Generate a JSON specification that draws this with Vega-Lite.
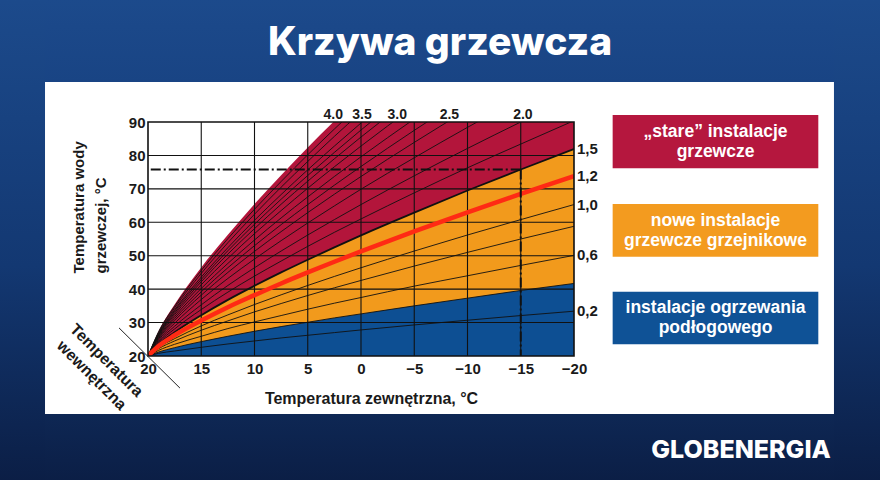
{
  "$schema": "https://vega.github.io/schema/vega-lite/v6.json",
  "width": 426,
  "height": 234,
  "autosize": {"type": "none"},
  "padding": {"left": 148, "top": 122, "right": 306, "bottom": 124},
  "background": "#ffffff",
  "config": {
    "view": {"stroke": null},
    "font": "Liberation Sans",
    "axis": {"grid": false, "ticks": false, "domain": false, "labelFont": "Liberation Sans Narrow, Arial Narrow, Liberation Sans, sans-serif", "labelFontSize": 15, "labelFontWeight": "bold", "labelColor": "#1a1a1a", "labelOverlap": false, "labelFlush": false, "labelBound": false, "titleFont": "Liberation Sans Narrow, Arial Narrow, Liberation Sans, sans-serif", "titleFontSize": 16, "titleFontWeight": "bold", "titleColor": "#1a1a1a"},
    "axisX": {"labelPadding": 5, "titleX": 223, "titleY": 42, "titleBaseline": "middle", "titleAlign": "center"},
    "axisY": {"tickCount": 8, "labelPadding": 3, "titleAngle": 270, "titleAlign": "left", "titleBaseline": "middle", "titleX": -70, "titleY": 151, "titleLineHeight": 22, "titleFontSize": 15}
  },
  "datasets": {
    "curves": [
      {"k":"4.0","t":20,"v":20},{"k":"4.0","t":19,"v":27.5},{"k":"4.0","t":17.5,"v":35.4},{"k":"4.0","t":15,"v":46.5},{"k":"4.0","t":12.5,"v":56.3},{"k":"4.0","t":10,"v":65.5},{"k":"4.0","t":7.5,"v":74.1},{"k":"4.0","t":5,"v":82.4},{"k":"4.0","t":2.5,"v":90.3},{"k":"4.0","t":0,"v":98.0},{"k":"4.0","t":-5,"v":112.9},{"k":"4.0","t":-10,"v":127.1},{"k":"4.0","t":-15,"v":140.7},{"k":"4.0","t":-20,"v":154.0},
      {"k":"3.8","t":20,"v":20},{"k":"3.8","t":19,"v":27.3},{"k":"3.8","t":17.5,"v":34.9},{"k":"3.8","t":15,"v":45.6},{"k":"3.8","t":12.5,"v":55.1},{"k":"3.8","t":10,"v":63.9},{"k":"3.8","t":7.5,"v":72.2},{"k":"3.8","t":5,"v":80.2},{"k":"3.8","t":2.5,"v":87.9},{"k":"3.8","t":0,"v":95.4},
      {"k":"3.7","t":20,"v":20},{"k":"3.7","t":19,"v":27.0},{"k":"3.7","t":17.5,"v":34.4},{"k":"3.7","t":15,"v":44.7},{"k":"3.7","t":12.5,"v":53.9},{"k":"3.7","t":10,"v":62.4},{"k":"3.7","t":7.5,"v":70.5},{"k":"3.7","t":5,"v":78.2},{"k":"3.7","t":2.5,"v":85.7},{"k":"3.7","t":0,"v":92.9},
      {"k":"3.5","t":20,"v":20},{"k":"3.5","t":19,"v":26.7},{"k":"3.5","t":17.5,"v":33.8},{"k":"3.5","t":15,"v":43.6},{"k":"3.5","t":12.5,"v":52.4},{"k":"3.5","t":10,"v":60.6},{"k":"3.5","t":7.5,"v":68.3},{"k":"3.5","t":5,"v":75.7},{"k":"3.5","t":2.5,"v":82.8},{"k":"3.5","t":0,"v":89.7},{"k":"3.5","t":-5,"v":103.0},
      {"k":"3.3","t":20,"v":20},{"k":"3.3","t":19,"v":26.5},{"k":"3.3","t":17.5,"v":33.4},{"k":"3.3","t":15,"v":42.9},{"k":"3.3","t":12.5,"v":51.5},{"k":"3.3","t":10,"v":59.4},{"k":"3.3","t":7.5,"v":66.9},{"k":"3.3","t":5,"v":74.0},{"k":"3.3","t":2.5,"v":80.9},{"k":"3.3","t":0,"v":87.6},{"k":"3.3","t":-5,"v":100.5},
      {"k":"3.2","t":20,"v":20},{"k":"3.2","t":19,"v":26.3},{"k":"3.2","t":17.5,"v":32.9},{"k":"3.2","t":15,"v":42.2},{"k":"3.2","t":12.5,"v":50.5},{"k":"3.2","t":10,"v":58.1},{"k":"3.2","t":7.5,"v":65.4},{"k":"3.2","t":5,"v":72.3},{"k":"3.2","t":2.5,"v":79.0},{"k":"3.2","t":0,"v":85.5},{"k":"3.2","t":-5,"v":97.9},
      {"k":"3.0","t":20,"v":20},{"k":"3.0","t":19,"v":26.1},{"k":"3.0","t":17.5,"v":32.4},{"k":"3.0","t":15,"v":41.3},{"k":"3.0","t":12.5,"v":49.2},{"k":"3.0","t":10,"v":56.6},{"k":"3.0","t":7.5,"v":63.5},{"k":"3.0","t":5,"v":70.2},{"k":"3.0","t":2.5,"v":76.6},{"k":"3.0","t":0,"v":82.8},{"k":"3.0","t":-5,"v":94.7},
      {"k":"2.8","t":20,"v":20},{"k":"2.8","t":19,"v":25.8},{"k":"2.8","t":17.5,"v":31.8},{"k":"2.8","t":15,"v":40.2},{"k":"2.8","t":12.5,"v":47.7},{"k":"2.8","t":10,"v":54.7},{"k":"2.8","t":7.5,"v":61.3},{"k":"2.8","t":5,"v":67.6},{"k":"2.8","t":2.5,"v":73.7},{"k":"2.8","t":0,"v":79.6},{"k":"2.8","t":-5,"v":90.9},
      {"k":"2.7","t":20,"v":20},{"k":"2.7","t":19,"v":25.5},{"k":"2.7","t":17.5,"v":31.2},{"k":"2.7","t":15,"v":39.2},{"k":"2.7","t":12.5,"v":46.4},{"k":"2.7","t":10,"v":53.0},{"k":"2.7","t":7.5,"v":59.3},{"k":"2.7","t":5,"v":65.3},{"k":"2.7","t":2.5,"v":71.1},{"k":"2.7","t":0,"v":76.7},{"k":"2.7","t":-5,"v":87.5},{"k":"2.7","t":-10,"v":97.8},
      {"k":"2.5","t":20,"v":20},{"k":"2.5","t":19,"v":25.2},{"k":"2.5","t":17.5,"v":30.6},{"k":"2.5","t":15,"v":38.2},{"k":"2.5","t":12.5,"v":45.0},{"k":"2.5","t":10,"v":51.3},{"k":"2.5","t":7.5,"v":57.2},{"k":"2.5","t":5,"v":62.9},{"k":"2.5","t":2.5,"v":68.4},{"k":"2.5","t":0,"v":73.7},{"k":"2.5","t":-5,"v":83.9},{"k":"2.5","t":-10,"v":93.7},
      {"k":"2.2","t":20,"v":20},{"k":"2.2","t":19,"v":24.8},{"k":"2.2","t":17.5,"v":29.8},{"k":"2.2","t":15,"v":36.9},{"k":"2.2","t":12.5,"v":43.2},{"k":"2.2","t":10,"v":49.0},{"k":"2.2","t":7.5,"v":54.5},{"k":"2.2","t":5,"v":59.8},{"k":"2.2","t":2.5,"v":64.9},{"k":"2.2","t":0,"v":69.9},{"k":"2.2","t":-5,"v":79.3},{"k":"2.2","t":-10,"v":88.4},{"k":"2.2","t":-15,"v":97.1},
      {"k":"2.0","t":20,"v":20},{"k":"2.0","t":19,"v":24.4},{"k":"2.0","t":17.5,"v":28.9},{"k":"2.0","t":15,"v":35.3},{"k":"2.0","t":12.5,"v":41.1},{"k":"2.0","t":10,"v":46.4},{"k":"2.0","t":7.5,"v":51.4},{"k":"2.0","t":5,"v":56.2},{"k":"2.0","t":2.5,"v":60.8},{"k":"2.0","t":0,"v":65.3},{"k":"2.0","t":-5,"v":73.9},{"k":"2.0","t":-10,"v":82.1},{"k":"2.0","t":-15,"v":90.0},{"k":"2.0","t":-20,"v":97.7},
      {"k":"1.8","t":20,"v":20},{"k":"1.8","t":19,"v":24.0},{"k":"1.8","t":17.5,"v":28.1},{"k":"1.8","t":15,"v":33.9},{"k":"1.8","t":12.5,"v":39.1},{"k":"1.8","t":10,"v":43.9},{"k":"1.8","t":7.5,"v":48.4},{"k":"1.8","t":5,"v":52.8},{"k":"1.8","t":2.5,"v":57.0},{"k":"1.8","t":0,"v":61.0},{"k":"1.8","t":-5,"v":68.8},{"k":"1.8","t":-10,"v":76.3},{"k":"1.8","t":-15,"v":83.4},{"k":"1.8","t":-20,"v":90.4},
      {"k":"1,5","t":20,"v":20},{"k":"1,5","t":19,"v":23.5},{"k":"1,5","t":17.5,"v":27.1},{"k":"1,5","t":15,"v":32.2},{"k":"1,5","t":12.5,"v":36.8},{"k":"1,5","t":10,"v":41.0},{"k":"1,5","t":7.5,"v":45.0},{"k":"1,5","t":5,"v":48.8},{"k":"1,5","t":2.5,"v":52.5},{"k":"1,5","t":0,"v":56.1},{"k":"1,5","t":-5,"v":62.9},{"k":"1,5","t":-10,"v":69.5},{"k":"1,5","t":-15,"v":75.8},{"k":"1,5","t":-20,"v":81.9},
      {"k":"1,2","t":20,"v":20},{"k":"1,2","t":19,"v":23.0},{"k":"1,2","t":17.5,"v":26.2},{"k":"1,2","t":15,"v":30.6},{"k":"1,2","t":12.5,"v":34.6},{"k":"1,2","t":10,"v":38.2},{"k":"1,2","t":7.5,"v":41.7},{"k":"1,2","t":5,"v":45.0},{"k":"1,2","t":2.5,"v":48.2},{"k":"1,2","t":0,"v":51.3},{"k":"1,2","t":-5,"v":57.3},{"k":"1,2","t":-10,"v":63.0},{"k":"1,2","t":-15,"v":68.5},{"k":"1,2","t":-20,"v":73.8},
      {"k":"1,0","t":20,"v":20},{"k":"1,0","t":19,"v":22.6},{"k":"1,0","t":17.5,"v":25.2},{"k":"1,0","t":15,"v":29.0},{"k":"1,0","t":12.5,"v":32.3},{"k":"1,0","t":10,"v":35.4},{"k":"1,0","t":7.5,"v":38.3},{"k":"1,0","t":5,"v":41.1},{"k":"1,0","t":2.5,"v":43.8},{"k":"1,0","t":0,"v":46.4},{"k":"1,0","t":-5,"v":51.4},{"k":"1,0","t":-10,"v":56.2},{"k":"1,0","t":-15,"v":60.8},{"k":"1,0","t":-20,"v":65.3},
      {"k":"0.8","t":20,"v":20},{"k":"0.8","t":19,"v":22.2},{"k":"0.8","t":17.5,"v":24.5},{"k":"0.8","t":15,"v":27.7},{"k":"0.8","t":12.5,"v":30.5},{"k":"0.8","t":10,"v":33.2},{"k":"0.8","t":7.5,"v":35.7},{"k":"0.8","t":5,"v":38.1},{"k":"0.8","t":2.5,"v":40.4},{"k":"0.8","t":0,"v":42.6},{"k":"0.8","t":-5,"v":46.9},{"k":"0.8","t":-10,"v":51.0},{"k":"0.8","t":-15,"v":55.0},{"k":"0.8","t":-20,"v":58.8},
      {"k":"0,6","t":20,"v":20},{"k":"0,6","t":19,"v":21.7},{"k":"0,6","t":17.5,"v":23.5},{"k":"0,6","t":15,"v":25.9},{"k":"0,6","t":12.5,"v":28.2},{"k":"0,6","t":10,"v":30.2},{"k":"0,6","t":7.5,"v":32.1},{"k":"0,6","t":5,"v":34.0},{"k":"0,6","t":2.5,"v":35.8},{"k":"0,6","t":0,"v":37.5},{"k":"0,6","t":-5,"v":40.9},{"k":"0,6","t":-10,"v":44.0},{"k":"0,6","t":-15,"v":47.1},{"k":"0,6","t":-20,"v":50.1},
      {"k":"0.4","t":20,"v":20},{"k":"0.4","t":19,"v":21.2},{"k":"0.4","t":17.5,"v":22.5},{"k":"0.4","t":15,"v":24.3},{"k":"0.4","t":12.5,"v":25.9},{"k":"0.4","t":10,"v":27.4},{"k":"0.4","t":7.5,"v":28.8},{"k":"0.4","t":5,"v":30.1},{"k":"0.4","t":2.5,"v":31.4},{"k":"0.4","t":0,"v":32.6},{"k":"0.4","t":-5,"v":35.0},{"k":"0.4","t":-10,"v":37.3},{"k":"0.4","t":-15,"v":39.6},{"k":"0.4","t":-20,"v":41.7},
      {"k":"0,2","t":20,"v":20},{"k":"0,2","t":19,"v":20.8},{"k":"0,2","t":17.5,"v":21.5},{"k":"0,2","t":15,"v":22.6},{"k":"0,2","t":12.5,"v":23.6},{"k":"0,2","t":10,"v":24.5},{"k":"0,2","t":7.5,"v":25.4},{"k":"0,2","t":5,"v":26.2},{"k":"0,2","t":2.5,"v":27.0},{"k":"0,2","t":0,"v":27.8},{"k":"0,2","t":-5,"v":29.3},{"k":"0,2","t":-10,"v":30.7},{"k":"0,2","t":-15,"v":32.1},{"k":"0,2","t":-20,"v":33.4}
    ],
    "toplabels": [
      {"k":"4.0","t":2.6},{"k":"3.5","t":-0.1},{"k":"3.0","t":-3.4},{"k":"2.5","t":-8.3},{"k":"2.0","t":-15.2}
    ],
    "gridx": [{"t":15},{"t":10},{"t":5},{"t":0},{"t":-5},{"t":-10},{"t":-15}],
    "gridy": [{"v":30},{"v":40},{"v":50},{"v":60},{"v":70},{"v":80}],
    "design": [{"t":-15,"v":75.8}]
  },
  "layer": [
    {
      "data": {"values": [{}]},
      "mark": {"type": "rect", "fill": {"gradient": "linear", "x1": 0, "y1": 0, "x2": 0, "y2": 1, "stops": [{"offset": 0, "color": "#1d4c8e"}, {"offset": 1, "color": "#194484"}]}},
      "encoding": {
        "x": {"datum": 40, "type": "quantitative", "scale": {"domain": [20, -20], "nice": false, "zero": false}},
        "x2": {"datum": -55},
        "y": {"datum": 135, "type": "quantitative", "scale": {"domain": [20, 90], "nice": false, "zero": false}},
        "y2": {"datum": 101.97}
      }
    },
    {
      "data": {"values": [{}]},
      "mark": {"type": "rect", "fill": {"gradient": "linear", "x1": 0, "y1": 0, "x2": 0, "y2": 1, "stops": [{"offset": 0, "color": "#0e2754"}, {"offset": 1, "color": "#0a1b40"}]}},
      "encoding": {
        "x": {"datum": 40, "type": "quantitative", "scale": {"domain": [20, -20], "nice": false, "zero": false}},
        "x2": {"datum": -55},
        "y": {"datum": 2.65, "type": "quantitative", "scale": {"domain": [20, 90], "nice": false, "zero": false}},
        "y2": {"datum": -25}
      }
    },
    {
      "data": {"values": [{}]},
      "mark": {"type": "rect", "fill": {"gradient": "linear", "x1": 0, "y1": 0, "x2": 0, "y2": 1, "stops": [{"offset": 0, "color": "#1d4c8e"}, {"offset": 0.55, "color": "#133872"}, {"offset": 1, "color": "#0a1b40"}]}},
      "encoding": {
        "x": {"datum": 40, "type": "quantitative", "scale": {"domain": [20, -20], "nice": false, "zero": false}},
        "x2": {"datum": 29.67},
        "y": {"datum": 135, "type": "quantitative", "scale": {"domain": [20, 90], "nice": false, "zero": false}},
        "y2": {"datum": -25}
      }
    },
    {
      "data": {"values": [{}]},
      "mark": {"type": "rect", "fill": {"gradient": "linear", "x1": 0, "y1": 0, "x2": 0, "y2": 1, "stops": [{"offset": 0, "color": "#1d4c8e"}, {"offset": 0.55, "color": "#133872"}, {"offset": 1, "color": "#0a1b40"}]}},
      "encoding": {
        "x": {"datum": -44.41, "type": "quantitative", "scale": {"domain": [20, -20], "nice": false, "zero": false}},
        "x2": {"datum": -55},
        "y": {"datum": 135, "type": "quantitative", "scale": {"domain": [20, 90], "nice": false, "zero": false}},
        "y2": {"datum": -25}
      }
    },
    {
      "data": {"values": [{"label": "„stare” instalacje\ngrzewcze"}]},
      "layer": [
        {
          "mark": {"type": "rect", "fill": "#b5173e"},
          "encoding": {
            "x": {"datum": -23.63, "type": "quantitative", "scale": {"domain": [20, -20], "nice": false, "zero": false}},
            "x2": {"datum": -42.94},
            "y": {"datum": 92.09, "type": "quantitative", "scale": {"domain": [20, 90], "nice": false, "zero": false}},
            "y2": {"datum": 76.15}
          }
        },
        {
          "mark": {"type": "text", "color": "#ffffff", "font": "Liberation Sans", "fontSize": 17.5, "fontWeight": "bold", "lineBreak": "\n", "lineHeight": 20, "align": "center", "baseline": "middle"},
          "encoding": {
            "x": {"datum": -33.29, "type": "quantitative", "scale": {"domain": [20, -20], "nice": false, "zero": false}},
            "y": {"datum": 87.0, "type": "quantitative", "scale": {"domain": [20, 90], "nice": false, "zero": false}},
            "text": {"field": "label"}
          }
        }
      ]
    },
    {
      "data": {"values": [{"label": "nowe instalacje\ngrzewcze grzejnikowe"}]},
      "layer": [
        {
          "mark": {"type": "rect", "fill": "#f39b1f"},
          "encoding": {
            "x": {"datum": -23.63, "type": "quantitative", "scale": {"domain": [20, -20], "nice": false, "zero": false}},
            "x2": {"datum": -42.94},
            "y": {"datum": 65.47, "type": "quantitative", "scale": {"domain": [20, 90], "nice": false, "zero": false}},
            "y2": {"datum": 49.71}
          }
        },
        {
          "mark": {"type": "text", "color": "#ffffff", "font": "Liberation Sans", "fontSize": 17.5, "fontWeight": "bold", "lineBreak": "\n", "lineHeight": 20, "align": "center", "baseline": "middle"},
          "encoding": {
            "x": {"datum": -33.29, "type": "quantitative", "scale": {"domain": [20, -20], "nice": false, "zero": false}},
            "y": {"datum": 60.5, "type": "quantitative", "scale": {"domain": [20, 90], "nice": false, "zero": false}},
            "text": {"field": "label"}
          }
        }
      ]
    },
    {
      "data": {"values": [{"label": "instalacje ogrzewania\npodłogowego"}]},
      "layer": [
        {
          "mark": {"type": "rect", "fill": "#0f5296"},
          "encoding": {
            "x": {"datum": -23.63, "type": "quantitative", "scale": {"domain": [20, -20], "nice": false, "zero": false}},
            "x2": {"datum": -42.94},
            "y": {"datum": 39.24, "type": "quantitative", "scale": {"domain": [20, 90], "nice": false, "zero": false}},
            "y2": {"datum": 23.5}
          }
        },
        {
          "mark": {"type": "text", "color": "#ffffff", "font": "Liberation Sans", "fontSize": 17.5, "fontWeight": "bold", "lineBreak": "\n", "lineHeight": 20, "align": "center", "baseline": "middle"},
          "encoding": {
            "x": {"datum": -33.29, "type": "quantitative", "scale": {"domain": [20, -20], "nice": false, "zero": false}},
            "y": {"datum": 34.3, "type": "quantitative", "scale": {"domain": [20, 90], "nice": false, "zero": false}},
            "text": {"field": "label"}
          }
        }
      ]
    },
    {
      "data": {"name": "curves"},
      "transform": [{"filter": "datum.k == '4.0'"}],
      "mark": {"type": "area", "color": "#b3153b", "clip": true, "interpolate": "monotone"},
      "encoding": {
        "x": {"field": "t", "type": "quantitative", "scale": {"domain": [20, -20], "nice": false, "zero": false},
          "axis": {"values": [20, 15, 10, 5, 0, -5, -10, -15, -20], "title": "Temperatura zewnętrzna, °C"}},
        "y": {"field": "v", "type": "quantitative", "scale": {"domain": [20, 90], "nice": false, "zero": false},
          "axis": {"values": [20, 30, 40, 50, 60, 70, 80, 90], "title": ["Temperatura wody", "grzewczej, °C"]}},
        "y2": {"datum": 20}
      }
    },
    {
      "data": {"name": "curves"},
      "transform": [{"filter": "datum.k == '1,5'"}],
      "mark": {"type": "area", "color": "#f29a1c", "clip": true, "interpolate": "monotone"},
      "encoding": {
        "x": {"field": "t", "type": "quantitative", "scale": {"domain": [20, -20], "nice": false, "zero": false}},
        "y": {"field": "v", "type": "quantitative", "scale": {"domain": [20, 90], "nice": false, "zero": false}},
        "y2": {"datum": 20}
      }
    },
    {
      "data": {"name": "curves"},
      "transform": [{"filter": "datum.k == '0.4'"}],
      "mark": {"type": "area", "color": "#0d4f93", "clip": true, "interpolate": "monotone"},
      "encoding": {
        "x": {"field": "t", "type": "quantitative", "scale": {"domain": [20, -20], "nice": false, "zero": false}},
        "y": {"field": "v", "type": "quantitative", "scale": {"domain": [20, 90], "nice": false, "zero": false}},
        "y2": {"datum": 20}
      }
    },
    {
      "data": {"name": "gridx"},
      "mark": {"type": "rule", "color": "#111111", "strokeWidth": 1.1},
      "encoding": {
        "x": {"field": "t", "type": "quantitative", "scale": {"domain": [20, -20], "nice": false, "zero": false}}
      }
    },
    {
      "data": {"name": "gridy"},
      "mark": {"type": "rule", "color": "#111111", "strokeWidth": 1.1},
      "encoding": {
        "y": {"field": "v", "type": "quantitative", "scale": {"domain": [20, 90], "nice": false, "zero": false}}
      }
    },
    {
      "data": {"name": "curves"},
      "transform": [{"filter": "datum.k != '4.0' && datum.k != '1,5' && datum.k != '1,2'"}],
      "mark": {"type": "line", "color": "#111111", "strokeWidth": 0.9, "clip": true, "interpolate": "monotone"},
      "encoding": {
        "x": {"field": "t", "type": "quantitative", "scale": {"domain": [20, -20], "nice": false, "zero": false}},
        "y": {"field": "v", "type": "quantitative", "scale": {"domain": [20, 90], "nice": false, "zero": false}},
        "detail": {"field": "k"}
      }
    },
    {
      "data": {"name": "curves"},
      "transform": [{"filter": "datum.k == '1,5'"}],
      "mark": {"type": "line", "color": "#111111", "strokeWidth": 1.8, "clip": true, "interpolate": "monotone"},
      "encoding": {
        "x": {"field": "t", "type": "quantitative", "scale": {"domain": [20, -20], "nice": false, "zero": false}},
        "y": {"field": "v", "type": "quantitative", "scale": {"domain": [20, 90], "nice": false, "zero": false}}
      }
    },
    {
      "data": {"name": "curves"},
      "transform": [{"filter": "datum.k == '1,2'"}],
      "mark": {"type": "line", "color": "#ff2a14", "strokeWidth": 4.5, "clip": true, "interpolate": "monotone"},
      "encoding": {
        "x": {"field": "t", "type": "quantitative", "scale": {"domain": [20, -20], "nice": false, "zero": false}},
        "y": {"field": "v", "type": "quantitative", "scale": {"domain": [20, 90], "nice": false, "zero": false}}
      }
    },
    {
      "data": {"name": "design"},
      "mark": {"type": "rule", "color": "#111111", "strokeWidth": 2, "strokeDash": [10, 3, 2, 3]},
      "encoding": {
        "x": {"field": "t", "type": "quantitative", "scale": {"domain": [20, -20], "nice": false, "zero": false}},
        "x2": {"datum": 20},
        "y": {"field": "v", "type": "quantitative", "scale": {"domain": [20, 90], "nice": false, "zero": false}}
      }
    },
    {
      "data": {"name": "design"},
      "mark": {"type": "rule", "color": "#111111", "strokeWidth": 2, "strokeDash": [10, 3, 2, 3]},
      "encoding": {
        "x": {"field": "t", "type": "quantitative", "scale": {"domain": [20, -20], "nice": false, "zero": false}},
        "y": {"field": "v", "type": "quantitative", "scale": {"domain": [20, 90], "nice": false, "zero": false}},
        "y2": {"datum": 20}
      }
    },
    {
      "data": {"values": [{}]},
      "mark": {"type": "rect", "fillOpacity": 0, "stroke": "#111111", "strokeWidth": 1.6},
      "encoding": {
        "x": {"datum": 20, "type": "quantitative", "scale": {"domain": [20, -20], "nice": false, "zero": false}},
        "x2": {"datum": -20},
        "y": {"datum": 20, "type": "quantitative", "scale": {"domain": [20, 90], "nice": false, "zero": false}},
        "y2": {"datum": 90}
      }
    },
    {
      "data": {"values": [{}]},
      "mark": {"type": "rule", "color": "#222222", "strokeWidth": 1},
      "encoding": {
        "x": {"datum": 22.72, "type": "quantitative", "scale": {"domain": [20, -20], "nice": false, "zero": false}},
        "x2": {"datum": 17.0},
        "y": {"datum": 28.4, "type": "quantitative", "scale": {"domain": [20, 90], "nice": false, "zero": false}},
        "y2": {"datum": 10.4}
      }
    },
    {
      "data": {"values": [{"label": "Temperatura\nwewnętrzna"}]},
      "mark": {"type": "text", "angle": 45, "align": "center", "baseline": "middle", "lineBreak": "\n", "lineHeight": 21, "font": "Liberation Sans Narrow, Arial Narrow, Liberation Sans, sans-serif", "fontSize": 16, "fontWeight": "bold", "color": "#1a1a1a"},
      "encoding": {
        "x": {"datum": 23.9, "type": "quantitative", "scale": {"domain": [20, -20], "nice": false, "zero": false}},
        "y": {"datum": 18.65, "type": "quantitative", "scale": {"domain": [20, 90], "nice": false, "zero": false}},
        "text": {"field": "label"}
      }
    },
    {
      "data": {"name": "toplabels"},
      "mark": {"type": "text", "align": "center", "baseline": "middle", "dy": -7, "font": "Liberation Sans Narrow, Arial Narrow, Liberation Sans, sans-serif", "fontSize": 14, "fontWeight": "bold", "color": "#1a1a1a"},
      "encoding": {
        "x": {"field": "t", "type": "quantitative", "scale": {"domain": [20, -20], "nice": false, "zero": false}},
        "y": {"datum": 90, "type": "quantitative", "scale": {"domain": [20, 90], "nice": false, "zero": false}},
        "text": {"field": "k"}
      }
    },
    {
      "data": {"name": "curves"},
      "transform": [{"filter": "datum.t == -20 && indexof(['1,5','1,2','1,0','0,6','0,2'], datum.k) >= 0"}],
      "mark": {"type": "text", "align": "left", "baseline": "middle", "dx": 3, "font": "Liberation Sans Narrow, Arial Narrow, Liberation Sans, sans-serif", "fontSize": 15, "fontWeight": "bold", "color": "#1a1a1a"},
      "encoding": {
        "x": {"field": "t", "type": "quantitative", "scale": {"domain": [20, -20], "nice": false, "zero": false}},
        "y": {"field": "v", "type": "quantitative", "scale": {"domain": [20, 90], "nice": false, "zero": false}},
        "text": {"field": "k"}
      }
    },
    {
      "data": {"values": [{"label": "Krzywa grzewcza"}]},
      "mark": {"type": "text", "align": "center", "baseline": "middle", "font": "Inter", "fontSize": 39, "fontWeight": 800, "color": "#ffffff"},
      "encoding": {
        "x": {"datum": -7.42, "type": "quantitative", "scale": {"domain": [20, -20], "nice": false, "zero": false}},
        "y": {"datum": 113.6, "type": "quantitative", "scale": {"domain": [20, 90], "nice": false, "zero": false}},
        "text": {"field": "label"}
      }
    },
    {
      "data": {"values": [{"label": "GLOBENERGIA"}]},
      "mark": {"type": "text", "align": "center", "baseline": "middle", "font": "Inter", "fontSize": 25, "fontWeight": 800, "color": "#ffffff"},
      "encoding": {
        "x": {"datum": -35.68, "type": "quantitative", "scale": {"domain": [20, -20], "nice": false, "zero": false}},
        "y": {"datum": -8.12, "type": "quantitative", "scale": {"domain": [20, 90], "nice": false, "zero": false}},
        "text": {"field": "label"}
      }
    }
  ]
}
